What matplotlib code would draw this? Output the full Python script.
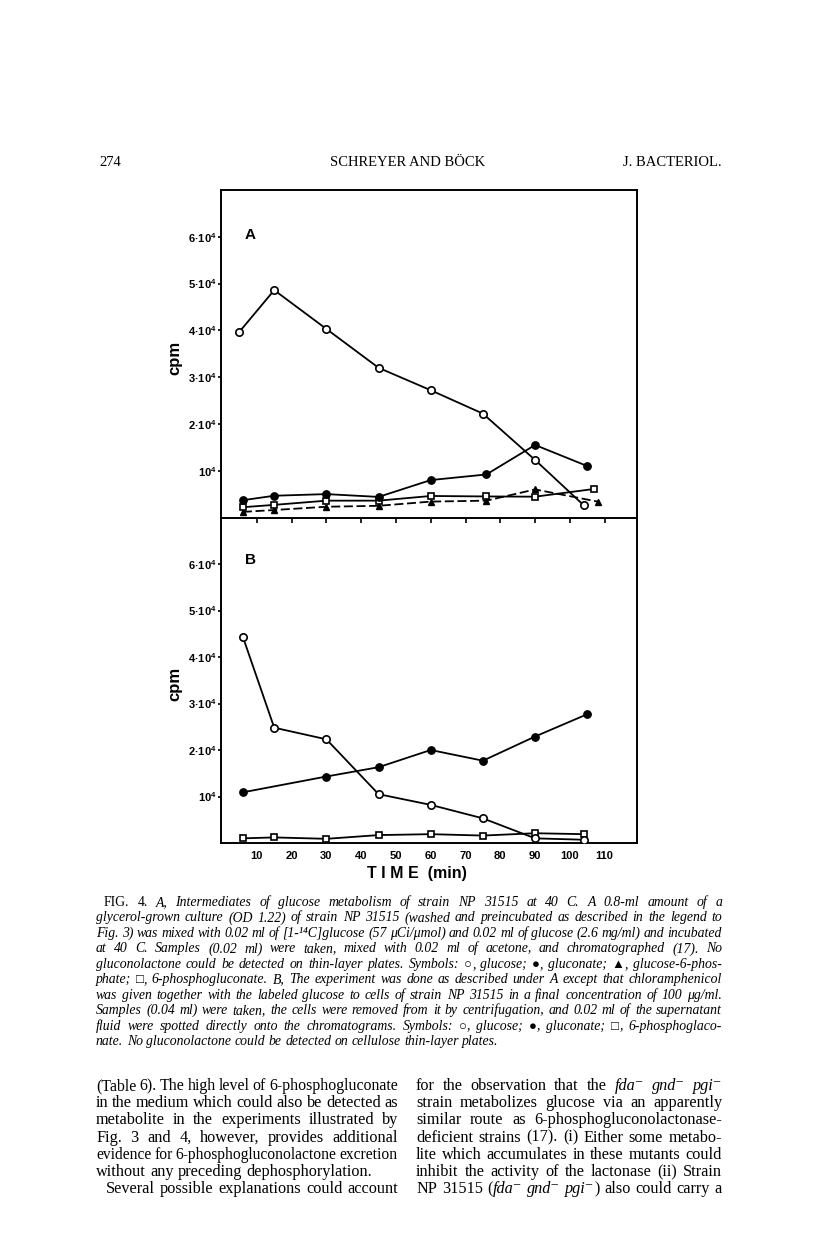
import numpy as np
import matplotlib
matplotlib.use('Agg')
import matplotlib.pyplot as plt

matplotlib.rcParams['mathtext.fontset'] = 'custom'
matplotlib.rcParams['mathtext.rm'] = 'Liberation Sans:bold'
matplotlib.rcParams['mathtext.default'] = 'rm'

SANS = ['Liberation Sans', 'DejaVu Sans']
SERIF = ['Liberation Serif', 'DejaVu Serif', 'DejaVu Sans']
SYMBOLS = '○●▲□'

# ---- data (time in min, cpm) ----
# panel A
time_a_glucose = [5, 15, 30, 45, 60, 75, 90, 104]
cpm_a_glucose = [39700, 48600, 40300, 32000, 27200, 22200, 12300, 2600]
time_a_gluconate = [6, 15, 30, 45, 60, 76, 90, 105]
cpm_a_gluconate = [3700, 4650, 5000, 4400, 8000, 9200, 15500, 11000]
time_a_g6p = [6, 15, 30, 45, 60, 76, 90, 108]
cpm_a_g6p = [1200, 1600, 2300, 2500, 3400, 3600, 6000, 3400]
time_a_6pg = [6, 15, 30, 45, 60, 76, 90, 107]
cpm_a_6pg = [2200, 2700, 3600, 3600, 4600, 4500, 4450, 6100]
# panel B
time_b_glucose = [6, 15, 30, 45, 60, 75, 90, 104]
cpm_b_glucose = [44300, 24800, 22300, 10500, 8200, 5300, 1000, 700]
time_b_gluconate = [6, 30, 45, 60, 75, 90, 105]
cpm_b_gluconate = [10900, 14300, 16300, 20000, 17700, 22900, 27700]
time_b_6pg = [6, 15, 30, 45, 60, 75, 90, 104]
cpm_b_6pg = [1000, 1200, 900, 1700, 1900, 1600, 2100, 1900]

x_ticks = [10, 20, 30, 40, 50, 60, 70, 80, 90, 100, 110]
y_ticks = [10000, 20000, 30000, 40000, 50000, 60000]
y_labels = ['10$^4$', '2·10$^4$', '3·10$^4$', '4·10$^4$', '5·10$^4$', '6·10$^4$']

header = ['274', 'SCHREYER AND BÖCK', 'J. BACTERIOL.']

caption = [
    '{FIG.} {4.} A, Intermediates of glucose metabolism of strain NP 31515 at 40 C. A 0.8-ml amount of a',
    'glycerol-grown culture (OD 1.22) of strain NP 31515 (washed and preincubated as described in the legend to',
    'Fig. 3) was mixed with 0.02 ml of [1-¹⁴C]glucose (57 μCi/μmol) and 0.02 ml of glucose (2.6 mg/ml) and incubated',
    'at 40 C. Samples (0.02 ml) were taken, mixed with 0.02 ml of acetone, and chromatographed (17). No',
    'gluconolactone could be detected on thin-layer plates. Symbols: {○}, glucose; {●}, gluconate; {▲}, glucose-6-phos-',
    'phate; {□}, 6-phosphogluconate. B, The experiment was done as described under A except that chloramphenicol',
    'was given together with the labeled glucose to cells of strain NP 31515 in a final concentration of 100 μg/ml.',
    'Samples (0.04 ml) were taken, the cells were removed from it by centrifugation, and 0.02 ml of the supernatant',
    'fluid were spotted directly onto the chromatograms. Symbols: {○}, glucose; {●}, gluconate; {□}, 6-phosphoglaco-',
    'nate. No gluconolactone could be detected on cellulose thin-layer plates.',
]

body_left = [
    '(Table 6). The high level of 6-phosphogluconate',
    'in the medium which could also be detected as',
    'metabolite in the experiments illustrated by',
    'Fig. 3 and 4, however, provides additional',
    'evidence for 6-phosphogluconolactone excretion',
    'without any preceding dephosphorylation.',
    'Several possible explanations could account',
]
body_right = [
    'for the observation that the {fda⁻} {gnd⁻} {pgi⁻}',
    'strain metabolizes glucose via an apparently',
    'similar route as 6-phosphogluconolactonase-',
    'deficient strains (17). (i) Either some metabo-',
    'lite which accumulates in these mutants could',
    'inhibit the activity of the lactonase (ii) Strain',
    'NP 31515 ({fda⁻} {gnd⁻} {pgi⁻}) also could carry a',
]


def parse_word(word, italic):
    # text inside {} is set in the other style
    segs, cur, alt = [], '', False
    for ch in word:
        if ch in '{}':
            if cur:
                segs.append((cur, italic != alt))
            cur = ''
            alt = (ch == '{')
        else:
            cur += ch
    if cur:
        segs.append((cur, italic != alt))
    return segs


def make_words(pg, rend, text, y, size, italic):
    words = []
    for w in text.split(' '):
        objs = []
        for s, it in parse_word(w, italic):
            fs = size * 0.95 if s in SYMBOLS else size
            objs.append(pg.text(0, y, s, fontsize=fs, family=SERIF,
                                style='italic' if it else 'normal',
                                ha='left', va='baseline'))
        wid = [o.get_window_extent(rend).width for o in objs]
        words.append((objs, wid))
    return words


def natural_ratio(pg, rend, text, width, size, italic):
    words = make_words(pg, rend, text, 0, size, italic)
    total = sum(sum(wd) for _, wd in words) + (len(words) - 1) * size * 100 / 72 * 0.25
    for objs, _ in words:
        for o in objs:
            o.remove()
    return width / total


def draw_line(pg, rend, text, x0, x1, y, size, italic, justify):
    min_gap = size * 100 / 72 * 0.18
    words = make_words(pg, rend, text, y, size, italic)
    total = sum(sum(wd) for _, wd in words)
    n = len(words)
    if justify and n > 1 and (x1 - x0 - total) / (n - 1) < min_gap:
        # line too long at this size: shrink it a little
        for objs, _ in words:
            for o in objs:
                o.remove()
        size = size * (x1 - x0 - min_gap * (n - 1)) / total
        words = make_words(pg, rend, text, y, size, italic)
        total = sum(sum(wd) for _, wd in words)
    if justify and n > 1:
        gap = (x1 - x0 - total) / (n - 1)
    else:
        gap = size * 100 / 72 * 0.25
    x = x0
    for objs, wid in words:
        for o, wd in zip(objs, wid):
            o.set_x(x)
            x += wd
        x += gap


def style_axis(ax):
    ax.set_xlim(-0.3, 119.3)
    ax.set_ylim(0, 70000)
    for s in ax.spines.values():
        s.set_linewidth(1.4)
    ax.set_yticks(y_ticks)
    ax.set_yticklabels(y_labels)
    ax.tick_params(axis='y', direction='out', length=2.2, width=1.2, pad=1,
                   labelsize=8)
    for lb in ax.get_yticklabels():
        lb.set_fontweight('bold')
        lb.set_family(SANS)


def main():
    fig = plt.figure(figsize=(8.16, 12.59), dpi=100)
    pg = fig.add_axes([0, 0, 1, 1])
    pg.set_xlim(0, 816)
    pg.set_ylim(1259, 0)
    pg.axis('off')

    W, H = 816.0, 1259.0
    axA = fig.add_axes([221 / W, 1 - 517.5 / H, 416 / W, 327.5 / H])
    axB = fig.add_axes([221 / W, 1 - 843 / H, 416 / W, 325.5 / H])

    lw, ms = 1.3, 5.3
    # ----- panel A -----
    ax = axA
    ax.plot(time_a_g6p, cpm_a_g6p, color='k', lw=lw, ls=(0, (5, 2)),
            marker='^', ms=4.8, mfc='k', mec='k', zorder=2)
    ax.plot(time_a_6pg, cpm_a_6pg, color='k', lw=lw, marker='s', ms=4.3,
            mfc='white', mec='k', mew=1.2, zorder=3)
    ax.plot(time_a_gluconate, cpm_a_gluconate, color='k', lw=lw, marker='o',
            ms=ms, mfc='k', mec='k', zorder=3)
    ax.plot(time_a_glucose, cpm_a_glucose, color='k', lw=lw, marker='o',
            ms=ms, mfc='white', mec='k', mew=1.2, zorder=4)
    style_axis(ax)
    ax.spines['bottom'].set_visible(False)
    ax.tick_params(axis='x', bottom=False, labelbottom=False)
    ax.text(0.07, 0.863, 'A', transform=ax.transAxes, fontsize=11,
            fontweight='bold', family=SANS, ha='center', va='center')
    ax.text(-0.111, 0.487, 'cpm', transform=ax.transAxes, fontsize=12,
            fontweight='bold', family=SANS, rotation=90, ha='center', va='center')

    # ----- panel B -----
    ax = axB
    ax.plot(time_b_6pg, cpm_b_6pg, color='k', lw=lw, marker='s', ms=4.3,
            mfc='white', mec='k', mew=1.2, zorder=3)
    ax.plot(time_b_gluconate, cpm_b_gluconate, color='k', lw=lw, marker='o',
            ms=ms, mfc='k', mec='k', zorder=3)
    ax.plot(time_b_glucose, cpm_b_glucose, color='k', lw=lw, marker='o',
            ms=ms, mfc='white', mec='k', mew=1.2, zorder=4)
    style_axis(ax)
    ax.set_xticks(x_ticks)
    ax.set_xticklabels([str(v) for v in x_ticks])
    ax.tick_params(axis='x', top=True, bottom=False, direction='in',
                   length=3.5, width=1.2, labelsize=8, pad=6)
    for lb in ax.get_xticklabels():
        lb.set_fontweight('bold')
        lb.set_family(SANS)
    ax.text(0.07, 0.869, 'B', transform=ax.transAxes, fontsize=11,
            fontweight='bold', family=SANS, ha='center', va='center')
    ax.text(-0.111, 0.49, 'cpm', transform=ax.transAxes, fontsize=12,
            fontweight='bold', family=SANS, rotation=90, ha='center', va='center')
    pg.text(417, 873, 'T I M E  (min)', fontsize=11.5, fontweight='bold',
            family=SANS, ha='center', va='center')

    # ----- page text -----
    rend = fig.canvas.get_renderer()
    pg.text(99, 166, header[0], fontsize=10.5, family=SERIF, ha='left', va='baseline')
    pg.text(408, 166, header[1], fontsize=10.5, family=SERIF, ha='center', va='baseline')
    pg.text(722, 166, header[2], fontsize=10.5, family=SERIF, ha='right', va='baseline')

    cap_x0 = [104] + [96] * (len(caption) - 1)
    ratios = [natural_ratio(pg, rend, ln, 722 - x, 10.0, True)
              for ln, x in zip(caption[:-1], cap_x0[:-1])]
    cap_size = 10.0 * float(np.median(ratios)) * 0.97
    for i, line in enumerate(caption):
        draw_line(pg, rend, line, cap_x0[i], 722, 906 + i * 15.45, cap_size,
                  True, i < len(caption) - 1)

    left_x0 = [96] * 6 + [106]
    just_l = [True, True, True, True, True, False, True]
    ratios = [natural_ratio(pg, rend, ln, 398 - x, 10.0, False)
              for ln, x, j in zip(body_left, left_x0, just_l) if j]
    ratios += [natural_ratio(pg, rend, ln, 306, 10.0, False) for ln in body_right]
    body_size = 10.0 * float(np.median(ratios)) * 0.97
    for i, line in enumerate(body_left):
        draw_line(pg, rend, line, left_x0[i], 398, 1090 + i * 17.2, body_size,
                  False, just_l[i])
    for i, line in enumerate(body_right):
        draw_line(pg, rend, line, 416, 722, 1090 + i * 17.2, body_size, False, True)

    fig.savefig('out.png', dpi=100)
    plt.close('all')


if __name__ == '__main__':
    main()
